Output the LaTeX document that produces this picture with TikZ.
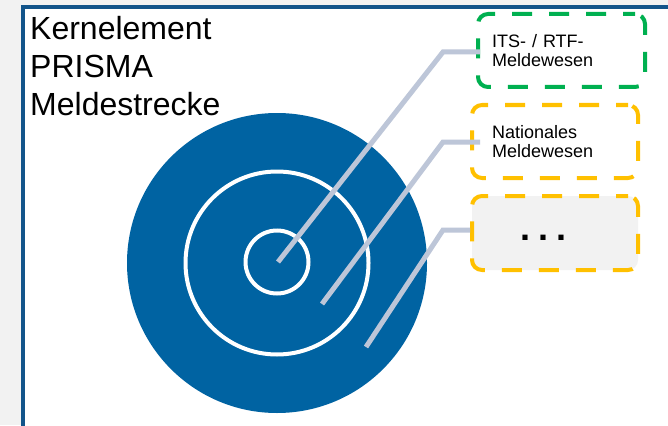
\documentclass[tikz,border=0pt]{standalone}
\usepackage{fontspec}
\setmainfont{Liberation Sans}
\definecolor{bggray}{RGB}{242,242,242}
\definecolor{frameblue}{RGB}{18,84,138}
\definecolor{discblue}{RGB}{0,99,162}
\definecolor{leadgray}{RGB}{189,198,216}
\definecolor{itsgreen}{RGB}{0,176,80}
\definecolor{natorange}{RGB}{255,192,0}
\begin{document}
\begin{tikzpicture}[x=1pt,y=-1pt,
  box/.style={draw, line width=4pt, rounded corners=10pt,
    dash pattern=on 20pt off 17pt, dash phase=8pt, minimum height=73pt, inner sep=0pt,
    align=left, font=\fontsize{18}{18.4}\selectfont},
  leader/.style={draw=leadgray, line width=5pt},
  ring/.style={draw=white, line width=4pt}]
\useasboundingbox (0,0) rectangle (668,425);
\fill[bggray] (0,0) rectangle (668,425);
\clip (0,0) rectangle (668,425);
% panel
\draw[fill=white, draw=frameblue, line width=4pt] (23,7) rectangle (720,470);
\node[anchor=base west, inner sep=0pt, align=left,
  font=\fontsize{32}{37.5}\selectfont] (title) at (30,115)
  {Kernelement\\PRISMA\\Meldestrecke};
% disc
\fill[discblue] (277,263) circle[radius=150];
\draw[ring] (277,263) circle[radius=91.5];
\draw[ring] (277,262) circle[radius=31.5];
% boxes
\node[box, draw=itsgreen, minimum width=167pt, text width=139pt] (b1) at (561.5,50.5)
  {ITS- / RTF-\\Meldewesen};
\node[box, draw=natorange, minimum width=166pt, text width=126pt] (b2) at (555,141.5)
  {Nationales\\Meldewesen};
% leaders
\coordinate (s1) at (278,262);
\coordinate (s2) at (322,304);
\coordinate (s3) at (366,347);
\coordinate (e1) at (443,52);
\coordinate (e2) at (443,142);
\coordinate (e3) at (443,230);
\draw[leader] (s1) -- (e1) -- ([xshift=4pt]e1 -| b1.west);
\draw[leader] (s2) -- (e2) -- ([xshift=10pt]e2 -| b2.west);
\node[box, draw=natorange, fill=bggray, minimum width=166pt, minimum height=74pt] (b3) at (555,233) {};
\draw[leader] (s3) -- (e3) -- (e3 -| b3.west);
\node[anchor=base, inner sep=0pt, font=\fontsize{36}{36}\bfseries\selectfont] (dots) at (543,240)
  {.\hspace{8pt}.\hspace{8pt}.};
\end{tikzpicture}
\end{document}
